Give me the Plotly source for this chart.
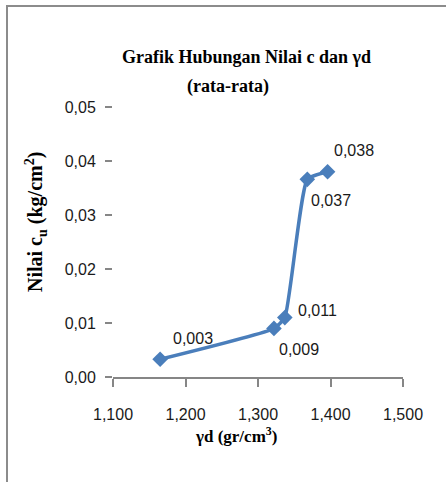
import plotly.graph_objects as go

# Dry density (gr/cm3) and average cohesion (kg/cm2)
gamma_d = [1.165, 1.322, 1.337, 1.368, 1.396]
c_u = [0.0033, 0.0090, 0.0110, 0.0366, 0.0380]

x_ticks = [1.1, 1.2, 1.3, 1.4, 1.5]
y_ticks = [0.00, 0.01, 0.02, 0.03, 0.04, 0.05]

# label offsets (pixels) relative to each point
label_dx = [33, 25, 33, 24, 26]
label_dy = [21, -21, 7, -21, 21]

W, H = 446, 482
L, R, T, B = 113, 43, 107, 105
PW, PH = W - L - R, H - T - B


def px(x):
    return (x - L) / PW


def py(y):
    return (H - B - y) / PH


BLUE = "#4a7ebb"
AXIS = "#868686"
TXT = "#1a1a1a"

fig = go.Figure()
fig.add_trace(go.Scatter(
    x=gamma_d, y=c_u, mode="lines+markers",
    line=dict(color=BLUE, width=3.5, shape="spline", smoothing=0.45),
    marker=dict(symbol="diamond", size=12, color=BLUE),
    showlegend=False, hoverinfo="skip",
))

annotations = []
for xv, yv, dx, dy in zip(gamma_d, c_u, label_dx, label_dy):
    annotations.append(dict(
        x=xv, y=yv, xref="x", yref="y", text=f"{yv:.3f}".replace(".", ","),
        showarrow=False, xshift=dx, yshift=dy,
        font=dict(family="Liberation Sans, Arial", size=16, color=TXT),
    ))

serif_b = "Liberation Serif, Times New Roman"
annotations += [
    dict(x=px(246), y=py(45), xref="paper", yref="paper", showarrow=False,
         text="<b>Grafik Hubungan Nilai c dan γd</b>",
         font=dict(family=serif_b, size=18, color="black")),
    dict(x=px(228), y=py(74), xref="paper", yref="paper", showarrow=False,
         text="<b>(rata-rata)</b>",
         font=dict(family=serif_b, size=18, color="black")),
    dict(x=px(20), y=py(222), xref="paper", yref="paper", showarrow=False,
         textangle=-90,
         text="<b>Nilai c<sub>u</sub> (kg/cm<sup>2</sup>)</b>",
         font=dict(family=serif_b, size=20, color="black")),
    dict(x=px(236), y=py(448), xref="paper", yref="paper", showarrow=False,
         text="<b>γd (gr/cm<sup>3</sup>)</b>",
         font=dict(family=serif_b, size=17, color="black")),
]

fig.update_layout(
    width=W, height=H, autosize=False,
    margin=dict(l=L, r=R, t=T, b=B, pad=0),
    paper_bgcolor="white", plot_bgcolor="white",
    separators=",.",
    annotations=annotations,
    shapes=[dict(type="rect", xref="paper", yref="paper",
                 x0=px(7), x1=px(470), y0=py(520), y1=py(6),
                 line=dict(color="#8c8c8c", width=2), layer="below")],
    xaxis=dict(
        range=[x_ticks[0], x_ticks[-1]], tickvals=x_ticks, tickformat=".3f",
        showgrid=False, zeroline=False, showline=True, linecolor=AXIS, linewidth=1.5,
        ticks="outside", ticklen=8, tickcolor=AXIS, tickwidth=1.5,
        tickfont=dict(family="Liberation Sans, Arial", size=16, color=TXT),
        ticklabelstandoff=14,
    ),
    yaxis=dict(
        range=[y_ticks[0], y_ticks[-1]], tickvals=y_ticks, tickformat=".2f",
        showgrid=False, zeroline=False, showline=False,
        ticks="outside", ticklen=7, tickcolor=AXIS, tickwidth=1.5,
        tickfont=dict(family="Liberation Sans, Arial", size=16, color=TXT),
        ticklabelstandoff=6,
    ),
)

fig.write_html("out.html")
